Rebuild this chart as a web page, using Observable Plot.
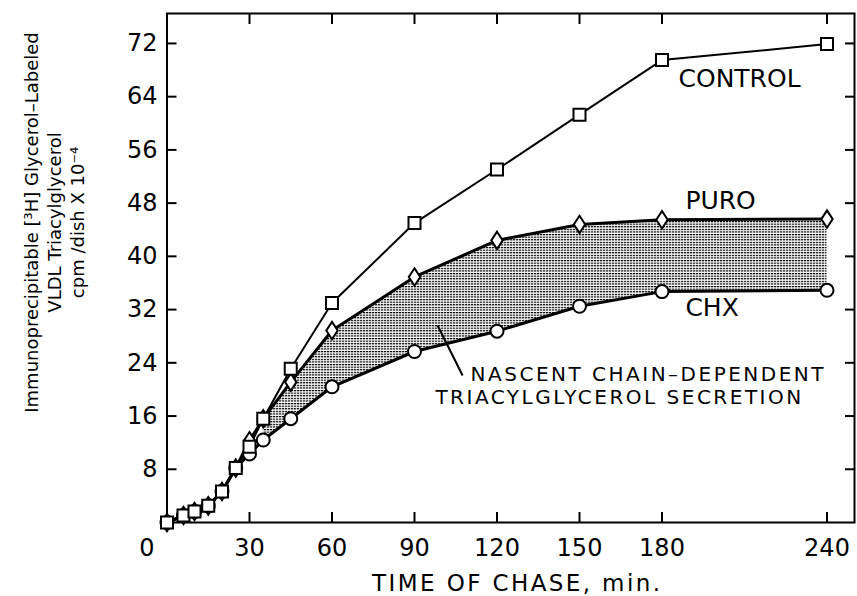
<!DOCTYPE html>
<html><head><meta charset="utf-8">
<script src="https://cdn.jsdelivr.net/npm/d3@7"></script>
<script src="https://cdn.jsdelivr.net/npm/@observablehq/plot@0.6"></script>
<style>
body{margin:0;background:#fff}
svg{font-family:"DejaVu Sans",sans-serif}
</style></head><body><div id="chart"></div>
<script>
// Time of chase (min)
const times   = [0, 6, 10, 15, 20, 25, 30, 35, 45, 60, 90, 120, 150, 180, 240];
// cpm/dish x 10^-4
const control = [0, 1.05, 1.65, 2.5, 4.65, 8.2, 11.4, 15.6, 23.1, 33.0, 45.0, 53.05, 61.3, 69.5, 71.9];
const puro    = [0, 1.05, 1.65, 2.5, 4.65, 8.2, 12.3, 15.6, 21.1, 28.85, 36.9, 42.4, 44.8, 45.5, 45.6];
const chx     = [0, 1.05, 1.65, 2.5, 4.65, 8.2, 10.3, 12.4, 15.6, 20.4, 25.7, 28.75, 32.5, 34.7, 34.9];

const xTicks = [30, 60, 90, 120, 150, 180, 240];
const yTicks = [8, 16, 24, 32, 40, 48, 56, 64, 72];

const seriesLabels = [
  {label: "CONTROL", t: 186, v: 65.5},
  {label: "PURO", t: 188.5, v: 47.15},
  {label: "CHX", t: 188.5, v: 31.1}
];
const annotationLines = [
  {text: "NASCENT CHAIN–DEPENDENT", t: 110.4, v: 21.3},
  {text: "TRIACYLGLYCEROL SECRETION", t: 97.6, v: 17.8}
];
const leader = [{t1: 98.4, v1: 29.6, t2: 107.5, v2: 22.1}];
const yTitle = "Immunoprecipitable [³H] Glycerol–Labeled\nVLDL Triacylglycerol\ncpm /dish X 10⁻⁴";
const xTitle = "TIME OF CHASE, min.";

const toRows = (vals) => times.map((t, i) => ({t, v: vals[i]}));
const controlData = toRows(control);
const puroData = toRows(puro);
const chxData = toRows(chx);
const shadeData = times.map((t, i) => ({t, lo: chx[i], hi: puro[i]})).filter(d => d.t >= 35);

const squareSym = {draw(ctx, size) { const r = Math.sqrt(size / Math.PI); ctx.rect(-r, -r, 2 * r, 2 * r); }};
const diamondSym = {draw(ctx, size) {
  const r = Math.sqrt(size / Math.PI); const w = 0.95 * r, h = 1.45 * r;
  ctx.moveTo(0, -h); ctx.lineTo(w, 0); ctx.lineTo(0, h); ctx.lineTo(-w, 0); ctx.closePath();
}};

const chart = Plot.plot({
  width: 857, height: 596,
  marginLeft: 166.5, marginRight: 3, marginTop: 13, marginBottom: 74,
  x: {domain: [0, 250]},
  y: {domain: [0, 76.5]},
  style: {fontFamily: "DejaVu Sans", background: "white", color: "black"},
  marks: [
    Plot.areaY(shadeData, {x: "t", y1: "lo", y2: "hi", fill: "url(#stipple)"}),
    Plot.frame({strokeWidth: 2}),
    Plot.axisY({ticks: yTicks, tickSize: 0, tickPadding: 9.5, fontSize: 24, label: null}),
    Plot.axisX({ticks: xTicks, tickSize: 0, tickPadding: 16, fontSize: 24, label: null}),
    Plot.text([0], {x: d => d, text: d => String(d), frameAnchor: "bottom", lineAnchor: "top", dy: 16, dx: -20, fontSize: 24}),
    Plot.axisY({ticks: yTicks, tickSize: 10, fill: "none", dx: 10, strokeWidth: 2, label: null}),
    Plot.axisY({ticks: yTicks, anchor: "right", tickSize: 10, fill: "none", dx: -10, strokeWidth: 2, label: null}),
    Plot.axisX({ticks: xTicks, tickSize: 10, fill: "none", dy: -10, strokeWidth: 2, label: null}),
    Plot.axisX({ticks: xTicks, anchor: "top", tickSize: 10, fill: "none", dy: 10, strokeWidth: 2, label: null}),
    Plot.line(controlData, {x: "t", y: "v", strokeWidth: 2}),
    Plot.line(puroData, {x: "t", y: "v", strokeWidth: 3}),
    Plot.line(chxData, {x: "t", y: "v", strokeWidth: 3}),
    Plot.link(leader, {x1: "t1", y1: "v1", x2: "t2", y2: "v2", strokeWidth: 2}),
    Plot.dot(chxData, {x: "t", y: "v", r: 6.5, fill: "white", stroke: "black", strokeWidth: 2}),
    Plot.dot(puroData, {x: "t", y: "v", r: 6, symbol: diamondSym, fill: "white", stroke: "black", strokeWidth: 2}),
    Plot.dot(controlData, {x: "t", y: "v", r: 6, symbol: squareSym, fill: "white", stroke: "black", strokeWidth: 2}),
    Plot.text(seriesLabels, {x: "t", y: "v", text: "label", textAnchor: "start", lineAnchor: "bottom", fontSize: 25}),
    Plot.text(annotationLines, {x: "t", y: "v", text: "text", textAnchor: "start", lineAnchor: "bottom", fontSize: 20}),
    Plot.text([xTitle], {text: d => d, frameAnchor: "bottom", textAnchor: "middle", lineAnchor: "bottom", dy: 68, dx: 6.5, fontSize: 23}),
    Plot.text([yTitle], {text: d => d, frameAnchor: "left", textAnchor: "middle", rotate: -90, lineAnchor: "bottom", dx: -83.5, dy: -45.5, fontSize: 18, lineHeight: 1.278})
  ]
});
d3.select(chart).insert("defs", ":first-child").html(
  '<pattern id="stipple" width="3" height="2.6" patternUnits="userSpaceOnUse"><rect width="2.3" height="1.2" fill="#000"/></pattern>'
);
const annotTexts = new Set(annotationLines.map(d => d.text));
d3.select(chart).selectAll("text").each(function() {
  const s = this.textContent;
  if (annotTexts.has(s)) this.style.letterSpacing = "2.5px";
  if (s === xTitle) this.style.letterSpacing = "2.4px";
});
document.getElementById("chart").appendChild(chart);
</script></body></html>
